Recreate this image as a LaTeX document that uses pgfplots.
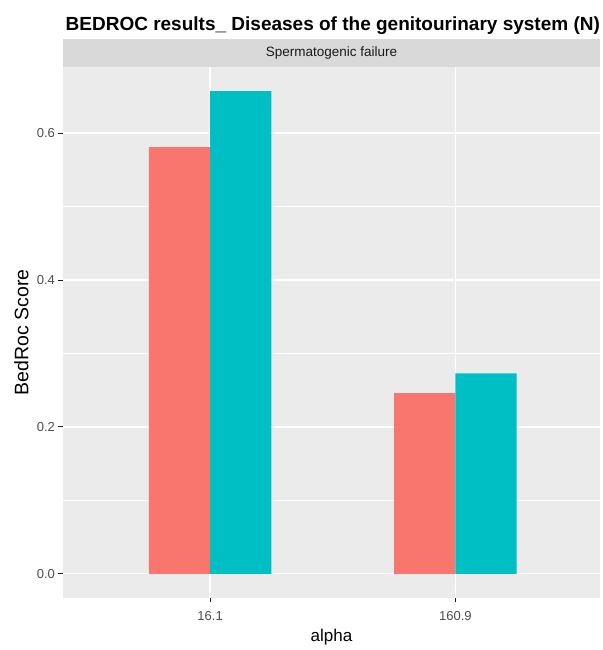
\documentclass[border=0pt]{standalone}
\usepackage{pgfplots}
\pgfplotsset{compat=1.18}
\usepackage{fontspec}
\setmainfont{Liberation Sans}
\definecolor{gpanel}{HTML}{EBEBEB}
\definecolor{gstrip}{HTML}{D9D9D9}
\definecolor{gred}{HTML}{F8766D}
\definecolor{gteal}{HTML}{00BFC4}
\definecolor{gtick}{HTML}{4D4D4D}
\definecolor{gtxt}{HTML}{1A1A1A}
\begin{document}
\begin{tikzpicture}[x=1pt,y=1pt]
\useasboundingbox (0,0) rectangle (602,650);
\begin{axis}[name=ax, at={(63pt,52pt)}, anchor=south west,
  scale only axis, width=537pt, height=531pt,
  xmin=0.4, xmax=2.59, ymin=-0.0329, ymax=0.690,
  axis background/.style={fill=gpanel},
  axis line style={draw=none},
  xtick={1,2}, xticklabels={16.1,160.9},
  ytick={0,0.2,0.4,0.6},
  minor ytick={0.1,0.3,0.5},
  yticklabel style={/pgf/number format/fixed,/pgf/number format/fixed zerofill,/pgf/number format/precision=1},
  /pgf/number format/assume math mode=true,
  tick label style={font=\fontsize{13}{15}\selectfont, text=gtick},
  xticklabel style={yshift=-5pt},
  grid=both,
  major grid style={white, line width=1.3pt},
  minor grid style={white, line width=0.65pt},
  tick style={gtxt, line width=0.9pt},
  major tick length=4.5pt,
  tick align=outside,
  xtick pos=bottom, ytick pos=left,
  minor tick length=0pt,
  xlabel={alpha}, ylabel={BedRoc Score},
  xlabel style={font=\fontsize{17}{19}\selectfont, text=black, at={(axis description cs:0.5,-0.0823)}, anchor=base},
  ylabel style={font=\fontsize{19.5}{21}\selectfont, text=black, at={(axis description cs:-0.0773,0.5)}, anchor=center},
  ybar, bar width=0.25,
]
\addplot[draw=none, fill=gred, bar shift=-0.125] coordinates {(1,0.581) (2,0.246)};
\addplot[draw=none, fill=gteal, bar shift=0.125] coordinates {(1,0.657) (2,0.273)};
\end{axis}
\fill[gstrip] (63,583) rectangle (600,611);
\node[font=\fontsize{13.5}{15}\selectfont, text=gtxt] at (331.5,597) {Spermatogenic failure};
\node[anchor=base west, font=\fontsize{19}{21}\bfseries\selectfont, inner sep=0pt] at (65.5,619.3) {BEDROC results\_ Diseases of the genitourinary system (N)};
\end{tikzpicture}
\end{document}
